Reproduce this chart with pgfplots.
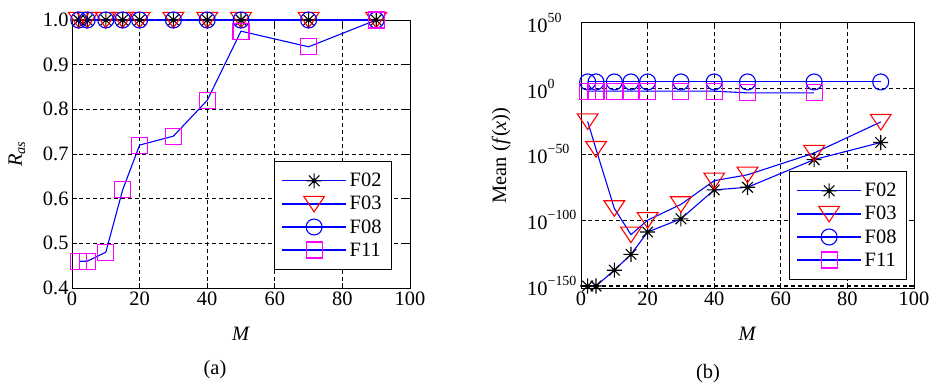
\documentclass[border=0pt]{standalone}
\usepackage{fontspec}
\setmainfont{Liberation Serif}
\usepackage{pgfplots}
\usepackage{pgfplotstable}
\pgfplotsset{compat=1.18}

\definecolor{mblue}{RGB}{0,0,255}
\definecolor{mred}{RGB}{255,0,0}
\definecolor{mmag}{RGB}{255,0,255}

\pgfdeclareplotmark{mast}{%
  \pgfpathmoveto{\pgfqpoint{-\pgfplotmarksize}{0pt}}\pgfpathlineto{\pgfqpoint{\pgfplotmarksize}{0pt}}%
  \pgfpathmoveto{\pgfqpoint{0pt}{-\pgfplotmarksize}}\pgfpathlineto{\pgfqpoint{0pt}{\pgfplotmarksize}}%
  \pgfpathmoveto{\pgfqpoint{-0.707\pgfplotmarksize}{-0.707\pgfplotmarksize}}\pgfpathlineto{\pgfqpoint{0.707\pgfplotmarksize}{0.707\pgfplotmarksize}}%
  \pgfpathmoveto{\pgfqpoint{-0.707\pgfplotmarksize}{0.707\pgfplotmarksize}}\pgfpathlineto{\pgfqpoint{0.707\pgfplotmarksize}{-0.707\pgfplotmarksize}}%
  \pgfusepathqstroke
  \pgfpathcircle{\pgfpointorigin}{1.8pt}\pgfusepathqfill}
\pgfdeclareplotmark{mtri}{%
  \pgfpathmoveto{\pgfqpoint{-1.3\pgfplotmarksize}{0.95\pgfplotmarksize}}%
  \pgfpathlineto{\pgfqpoint{1.3\pgfplotmarksize}{0.95\pgfplotmarksize}}%
  \pgfpathlineto{\pgfqpoint{0pt}{-1.0\pgfplotmarksize}}%
  \pgfpathclose\pgfusepathqstroke}
\pgfdeclareplotmark{msq}{%
  \pgfpathrectangle{\pgfqpoint{-\pgfplotmarksize}{-\pgfplotmarksize}}{\pgfqpoint{2\pgfplotmarksize}{2\pgfplotmarksize}}%
  \pgfusepathqstroke}
\pgfdeclareplotmark{mcirc}{%
  \pgfpathcircle{\pgfpointorigin}{\pgfplotmarksize}%
  \pgfusepathqstroke}

\newcommand{\fsz}{\fontsize{20.5}{24}\selectfont}
\newcommand{\tp}[1]{10\raisebox{10bp}{\fontsize{14}{14}\selectfont #1}}

% data (a): R_as
\pgfplotstableread{
M   F02 F03 F08 F11
2   1   1   1   0.46
4.5 1   1   1   0.46
10  1   1   1   0.48
15  1   1   1   0.62
20  1   1   1   0.72
30  1   1   1   0.74
40  1   1   1   0.82
50  1   1   1   0.975
70  1   1   1   0.94
90  1   1   1   1.0
}\tabA
% data (b): Mean f(x)
\pgfplotstableread{
M   F02     F03     F08
2   1e-150  1e-25   1e5
4.5 1e-150  1e-46   1e5
10  1e-138  1e-91   1e5
15  1e-126  1e-111  1e5
20  1e-109  1e-100  1e5
30  1e-99   1e-88   1e5
40  1e-77   1e-70   1e5
50  1e-75   3e-66   1e5
70  1e-54   1e-49   1e5
90  1e-41   4e-26   1e5
}\tabB
\pgfplotstableread{
M   F11
2   1e-2
4.5 1e-2
10  1e-2
15  1e-2
20  1e-2
30  1e-2
40  1e-2
50  5e-4
70  5e-4
}\tabBb

\pgfplotsset{
  base/.style={
    scale only axis, clip=false,
    xmin=0, xmax=100, xtick={0,20,40,60,80,100},
    axis line style={black, line width=1bp},
    every tick/.style={black, line width=1bp},
    tick align=inside, major tick length=5bp,
    grid=major,
    major grid style={black, dash pattern=on 4bp off 3bp, line width=1bp},
    tick label style={font=\fsz},
    label style={font=\fsz},
    /pgf/number format/assume math mode=true,
    legend cell align=left,
    legend style={font=\fsz, draw=black, line width=1bp, fill=white,
      inner xsep=7bp, inner ysep=9bp, row sep=2bp,
      nodes={inner sep=3bp}},
  },
  ln/.style={mblue, line width=1.1bp, forget plot},
  k02/.style={black, only marks, mark=mast, mark size=7.5bp, line width=1.1bp,
    legend image code/.code={%
      \draw[mblue, line width=1.2bp] (0bp,0bp) -- (64bp,0bp);
      \draw[black, line width=1.1bp] (32bp,0bp) +(-7.5bp,0bp) -- +(7.5bp,0bp)
        +(0bp,-7.5bp) -- +(0bp,7.5bp) +(-5.3bp,-5.3bp) -- +(5.3bp,5.3bp)
        +(-5.3bp,5.3bp) -- +(5.3bp,-5.3bp);
      \fill[black] (32bp,0bp) circle (1.8bp);}},
  k03/.style={mred, only marks, mark=mtri, mark size=8bp, line width=1.1bp,
    legend image code/.code={%
      \draw[mblue, line width=1.2bp] (0bp,0bp) -- (64bp,0bp);
      \draw[mred, line width=1.1bp] (21.6bp,7.6bp) -- (42.4bp,7.6bp) -- (32bp,-8bp) -- cycle;}},
  k08/.style={mblue, only marks, mark=mcirc, mark size=8bp, line width=1.1bp,
    legend image code/.code={%
      \draw[mblue, line width=1.2bp] (0bp,0bp) -- (64bp,0bp);
      \draw[mblue, line width=1.1bp] (32bp,0bp) circle (8bp);}},
  k11/.style={mmag, only marks, mark=msq, mark size=8bp, line width=1.1bp,
    legend image code/.code={%
      \draw[mblue, line width=1.2bp] (0bp,0bp) -- (64bp,0bp);
      \draw[mmag, line width=1.1bp] (24bp,-8bp) rectangle (40bp,8bp);}},
}

\begin{document}
\begin{tikzpicture}[x=1bp,y=1bp]
\path[use as bounding box] (0,0) rectangle (930,384);

% (a)
\begin{axis}[base, at={(72bp,96bp)}, anchor=south west, width=338bp, height=268bp,
  ymin=0.4, ymax=1.0, ytick={0.4,0.5,0.6,0.7,0.8,0.9,1.0},
  yticklabel style={/pgf/number format/.cd, fixed, fixed zerofill, precision=1},
  xlabel={\textit{M}}, ylabel={\textit{R}\textsubscript{\textit{as}}},
  xlabel style={at={(axis description cs:0.5,-0.1716)}, anchor=center},
  ylabel style={at={(axis description cs:-0.163,0.5)}, anchor=center},
  legend style={at={(1,0)}, anchor=south east, xshift=-18bp, yshift=18bp}]
\addplot[ln] table[x=M,y=F02] {\tabA};
\addplot[k02] table[x=M,y=F02] {\tabA};
\addplot[ln] table[x=M,y=F03] {\tabA};
\addplot[k03] table[x=M,y=F03] {\tabA};
\addplot[ln] table[x=M,y=F08] {\tabA};
\addplot[k08] table[x=M,y=F08] {\tabA};
\addplot[ln] table[x=M,y=F11] {\tabA};
\addplot[k11] table[x=M,y=F11] {\tabA};
\legend{F02,F03,F08,F11}
\end{axis}

% (b)
\begin{axis}[base, at={(581bp,96bp)}, anchor=south west, width=333bp, height=265.3bp,
  ymode=log, ymin=3e-152, ymax=1e50,
  ytick={1e-150,1e-100,1e-50,1,1e50}, minor ytick={},
  yticklabels={\tp{−150},\tp{−100},\tp{−50},\tp{0},\tp{50}},
  yticklabel style={anchor=west, inner xsep=0pt, xshift=-54bp},
  xlabel={\textit{M}}, ylabel={Mean (\textit{f}(\textit{x}))},
  xlabel style={at={(axis description cs:0.5,-0.1734)}, anchor=center},
  ylabel style={at={(axis description cs:-0.240,0.5)}, anchor=center},
  legend style={at={(1,0)}, anchor=south east, xshift=-7bp, yshift=8bp}]
\addplot[ln] table[x=M,y=F02] {\tabB};
\addplot[k02] table[x=M,y=F02] {\tabB};
\addplot[ln] table[x=M,y=F03] {\tabB};
\addplot[k03] table[x=M,y=F03] {\tabB};
\addplot[ln] table[x=M,y=F08] {\tabB};
\addplot[k08] table[x=M,y=F08] {\tabB};
\addplot[ln] table[x=M,y=F11] {\tabBb};
\addplot[k11] table[x=M,y=F11] {\tabBb};
\legend{F02,F03,F08,F11}
\end{axis}

\node[font=\fsz] at (215,14) {(a)};
\node[font=\fsz] at (708,10.7) {(b)};
\end{tikzpicture}
\end{document}
